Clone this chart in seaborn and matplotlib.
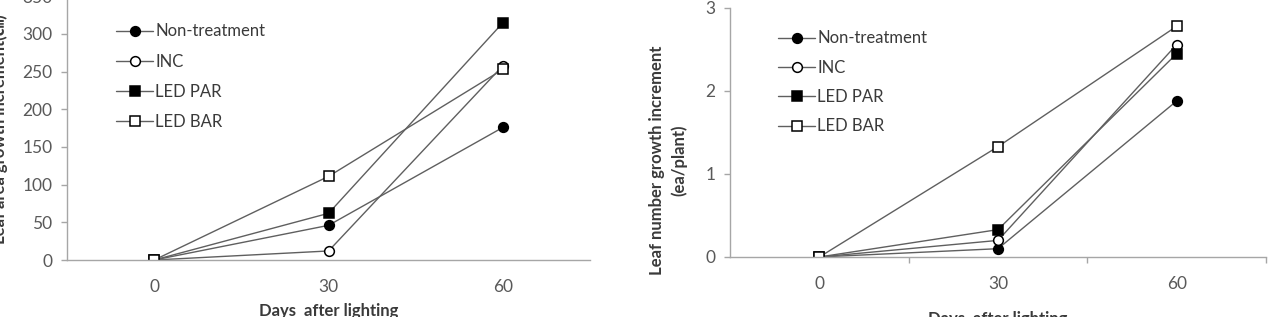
import numpy as np
import pandas as pd
import matplotlib
matplotlib.use('Agg')
import matplotlib.pyplot as plt
import seaborn as sns

days = ['0', '30', '60']
series = ['Non-treatment', 'INC', 'LED PAR', 'LED BAR']

area_non = [0, 46, 176]
area_inc = [0, 12, 258]
area_par = [0, 62, 315]
area_bar = [0, 111, 253]

num_non = [0, 0.10, 1.88]
num_inc = [0, 0.20, 2.56]
num_par = [0, 0.33, 2.45]
num_bar = [0, 1.33, 2.78]

area_ticks = [0, 50, 100, 150, 200, 250, 300, 350]
num_ticks = [0, 1, 2, 3]

sns.set_theme(style='white')
plt.rcParams['font.family'] = ['Lato', 'Noto Sans CJK SC', 'DejaVu Sans']

line_col = '#5f5f5f'
axis_col = '#a6a6a6'
tick_col = '#595959'
label_col = '#3a3a3a'

styles = {
    'Non-treatment': dict(marker='o', mfc='black', ms=7),
    'INC': dict(marker='o', mfc='white', ms=7),
    'LED PAR': dict(marker='s', mfc='black', ms=7.5),
    'LED BAR': dict(marker='s', mfc='white', ms=7.5),
}

pos = np.arange(len(days))


def draw(ax, values, yticks, ylim):
    for name, vals in zip(series, values):
        st = styles[name]
        sns.lineplot(x=pos, y=vals, ax=ax, color=line_col, lw=1.0,
                     marker=st['marker'], markerfacecolor=st['mfc'],
                     markeredgecolor='black', markeredgewidth=1.1,
                     markersize=st['ms'], label=name)
    ax.set_xlim(-0.5, 2.5)
    ax.set_ylim(*ylim)
    ax.set_yticks(yticks)
    ax.set_xticks(pos)
    ax.set_xticklabels(days)
    for s in ['top', 'right']:
        ax.spines[s].set_visible(False)
    for s in ['left', 'bottom']:
        ax.spines[s].set_color(axis_col)
        ax.spines[s].set_linewidth(1.0)
    ax.tick_params(axis='y', direction='out', length=4.5, width=1.0,
                   color=axis_col, labelcolor=tick_col, labelsize=12.5, pad=6, left=True)
    ax.tick_params(axis='x', length=0, labelcolor=tick_col, labelsize=12.5, pad=14)
    ax.set_xlabel('Days  after lighting', fontsize=12, fontweight='bold', color=label_col)


fig = plt.figure(figsize=(12.77, 3.17), dpi=100)

# left panel, top slightly cut like the source
ax1 = fig.add_axes([0.0525, 0.1798, 0.4096, 0.8319])
draw(ax1, [area_non, area_inc, area_par, area_bar], area_ticks, (0, 350))
ax1.set_ylabel('Leaf area growth increment(㎠)', fontsize=12, fontweight='bold', color=label_col)
ax1.yaxis.set_label_coords(-0.113, 0.496)
ax1.xaxis.set_label_coords(0.5, -0.163)
ax1.legend(loc='upper left', bbox_to_anchor=(0.094, 0.897), frameon=False,
           fontsize=12, handlelength=2.2, handletextpad=0.15, labelspacing=0.85,
           borderpad=0, borderaxespad=0, labelcolor=label_col)

ax2 = fig.add_axes([0.5717, 0.1893, 0.4197, 0.7855])
draw(ax2, [num_non, num_inc, num_par, num_bar], num_ticks, (0, 3))
ax2.set_xticks(pos + 0.5, minor=True)
ax2.tick_params(axis='x', which='minor', direction='out', length=4, width=1.0,
                color=axis_col, bottom=True)
ax2.set_ylabel('Leaf number growth increment\n(ea/plant)', fontsize=12,
               fontweight='bold', color=label_col, linespacing=1.4)
ax2.yaxis.set_label_coords(-0.08, 0.39)
ax2.xaxis.set_label_coords(0.5, -0.215)
ax2.legend(loc='upper left', bbox_to_anchor=(0.09, 0.91), frameon=False,
           fontsize=12, handlelength=2.2, handletextpad=0.15, labelspacing=0.8,
           borderpad=0, borderaxespad=0, labelcolor=label_col)

fig.savefig('out.png', dpi=100)
